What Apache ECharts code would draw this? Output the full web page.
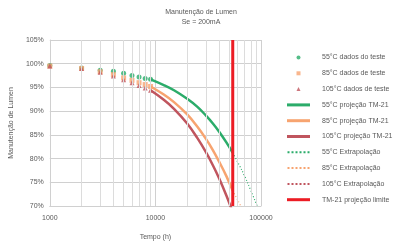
<!DOCTYPE html>
<html>
<head>
<meta charset="utf-8">
<script src="https://cdn.jsdelivr.net/npm/echarts@6/dist/echarts.min.js"></script>
<style>
    html, body { margin: 0; padding: 0; background: #fff; }
    #chart { width: 396px; height: 246px; }
</style>
</head>
<body>
<div id="chart"></div>
<script>
// test data (h / %)
const testHours = [1000, 2000, 3000, 4000, 5000, 6000, 7000, 8000, 9000];
const test55 = [99.6, 99.1, 98.6, 98.4, 98.0, 97.5, 97.2, 96.9, 96.7];
const test85 = [99.5, 99.0, 98.3, 97.7, 97.0, 96.5, 96.0, 95.6, 95.2];
const test105 = [99.5, 99.0, 98.2, 97.4, 96.6, 96.0, 95.4, 94.9, 94.4];

// TM-21 projection
const projHours = [9000, 12000, 15000, 20000, 25000, 30000, 35000, 40000, 47000, 54000];
const proj55 = [96.7, 95.5, 94.4, 92.6, 90.9, 89.1, 87.4, 85.7, 83.4, 81.2];
const proj85 = [95.2, 93.5, 91.9, 89.3, 86.7, 84.2, 81.8, 79.4, 76.3, 73.2];
const proj105 = [94.4, 92.4, 90.5, 87.4, 84.3, 81.4, 78.6, 75.9, 72.2, 68.7];

// extrapolation beyond the limit
const extHours = [54000, 62000, 70000, 80000, 94000];
const ext55 = [81.2, 78.7, 76.3, 73.3, 69.5];
const ext85 = [73.2, 70.7, 68.3, 65.3, 61.0];
const ext105 = [68.7, 64.8, 61.3, 57.1, 51.8];

const limitHours = 54000;
const limitRange = [70, 105];
const minorHours = [2000, 3000, 4000, 5000, 6000, 7000, 8000, 9000,
    20000, 30000, 40000, 50000, 60000, 70000, 80000, 90000];

const names = [
    '55°C dados do teste', '85°C dados de teste', '105°C dados de teste',
    '55°C projeção TM-21', '85°C projeção TM-21', '105°C projeção TM-21',
    '55°C Extrapolação', '85°C Extrapolação', '105°C Extrapolação',
    'TM-21 projeção limite'
];

const c55 = '#2bac6a';
const c85 = '#f7a470';
const c105 = '#c0555e';
const cLimit = '#ec1c24';
const font = 'Liberation Sans';

// legend icons
const iconSquare = 'path://M0,0h10v10h-10z';
const iconTri = 'path://M5,0L10,10L0,10z';
const iconSolid = 'path://M0,0h23v3h-23z';
const iconDots = 'path://M0,1h2v2h-2zM4,1h2v2h-2zM8,1h2v2h-2zM12,1h2v2h-2zM16,1h2v2h-2zM20,1h2v2h-2zM0,0h0.01v4h-0.01z';
const legendIcons = ['circle', iconSquare, iconTri, iconSolid, iconSolid, iconSolid,
    iconDots, iconDots, iconDots, iconSolid];

function pairs(xs, ys) {
    return xs.map((x, i) => [x, ys[i]]);
}

function scatter(name, ys, color, symbol) {
    return {
        name: name,
        type: 'scatter',
        data: pairs(testHours, ys),
        symbol: symbol,
        symbolSize: 5,
        itemStyle: { color: color },
        z: 4,
    };
}

function line(name, xs, ys, color, type, width) {
    return {
        name: name,
        type: 'line',
        data: pairs(xs, ys),
        smooth: 0.4,
        showSymbol: false,
        symbol: 'none',
        lineStyle: { color: color, width: width, type: type },
        itemStyle: { color: color },
        z: 3,
    };
}

const series = [
    scatter(names[0], test55, c55, 'circle'),
    scatter(names[1], test85, c85, 'rect'),
    scatter(names[2], test105, c105, 'triangle'),
    line(names[3], projHours, proj55, c55, 'solid', 2.5),
    line(names[4], projHours, proj85, c85, 'solid', 2.5),
    line(names[5], projHours, proj105, c105, 'solid', 2.5),
    line(names[6], extHours, ext55, c55, [1, 2], 1.2),
    line(names[7], extHours, ext85, c85, [1, 2], 1.2),
    line(names[8], extHours, ext105, c105, [1, 2], 1.2),
    {
        name: names[9],
        type: 'line',
        data: [[limitHours, limitRange[0]], [limitHours, limitRange[1]]],
        showSymbol: false,
        symbol: 'none',
        lineStyle: { color: cLimit, width: 3 },
        itemStyle: { color: cLimit },
        z: 5,
    },
    {
        // minor log grid lines
        type: 'line',
        data: [],
        silent: true,
        markLine: {
            silent: true,
            symbol: 'none',
            label: { show: false },
            lineStyle: { color: '#dcdcdc', width: 1, type: 'solid' },
            data: minorHours.map(h => ({ xAxis: h })),
        },
        z: 1,
    },
];

const chart = echarts.init(document.getElementById('chart'));
chart.setOption({
    animation: false,
    backgroundColor: '#fff',
    textStyle: { fontFamily: font },
    title: {
        text: 'Manutenção de Lumen\nSe = 200mA',
        left: 196,
        textAlign: 'center',
        top: 2,
        textStyle: { fontSize: 7, fontWeight: 'normal', color: '#595959', lineHeight: 10, fontFamily: font },
    },
    grid: { left: 41, right: 135, top: 40, bottom: 39 },
    legend: {
        data: names.map((n, i) => ({ name: n, icon: legendIcons[i] })),
        orient: 'vertical',
        left: 287,
        top: 49,
        padding: [5, 0, 5, 0],
        itemWidth: 23,
        itemHeight: 4,
        itemGap: 8.8,
        symbolKeepAspect: true,
        textStyle: { fontSize: 7, color: '#595959', fontFamily: font, padding: [0, 0, 0, 7] },
        selectedMode: false,
    },
    xAxis: {
        type: 'log',
        logBase: 10,
        min: 1000,
        max: 100000,
        name: 'Tempo (h)',
        nameLocation: 'middle',
        nameGap: 28,
        nameTextStyle: { fontSize: 7, color: '#595959' },
        axisLine: { show: true, lineStyle: { color: '#d0d0d0' } },
        axisTick: { show: false },
        axisLabel: { fontSize: 7, color: '#595959', margin: 9, formatter: v => String(v) },
        splitLine: { show: true, lineStyle: { color: '#d0d0d0' } },
    },
    yAxis: {
        type: 'value',
        min: 70,
        max: 105,
        interval: 5,
        name: 'Manutenção de Lumen',
        nameLocation: 'middle',
        nameGap: 25,
        nameTextStyle: { fontSize: 7, color: '#595959' },
        axisLine: { show: true, lineStyle: { color: '#d0d0d0' } },
        axisTick: { show: false },
        axisLabel: { fontSize: 7, color: '#595959', formatter: '{value}%', margin: 6 },
        splitLine: { show: true, lineStyle: { color: '#d0d0d0' } },
    },
    series: series,
});
</script>
</body>
</html>
